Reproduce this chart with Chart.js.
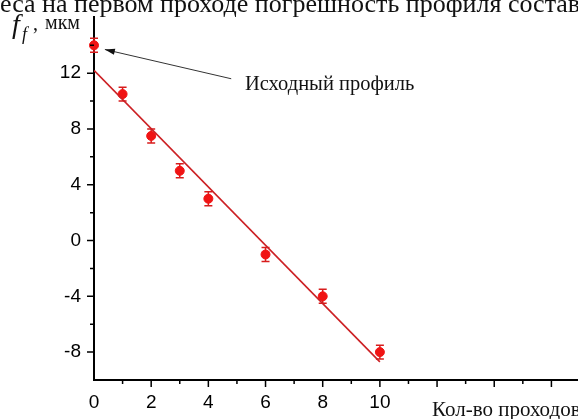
<!DOCTYPE html>
<html>
<head>
<meta charset="utf-8">
<script src="https://cdn.jsdelivr.net/npm/chart.js@4/dist/chart.umd.min.js"></script>
<style>
html, body { margin: 0; padding: 0; background: #fff; overflow: hidden; }
#wrap { position: relative; width: 600px; height: 419px; }
</style>
</head>
<body>
<div id="wrap"><canvas id="profileChart" width="600" height="419"></canvas></div>
<script>
// data
const passes = [0, 1, 2, 3, 4, 6, 8, 10];
const deviation = [14, 10.5, 7.5, 5, 3, -1, -4, -8];
const errors = [0.5, 0.5, 0.5, 0.5, 0.5, 0.5, 0.5, 0.5];
const fitX = [0, 10];
const fitY = [12.2, -8.7];
const xLabels = [0, 2, 4, 6, 8, 10];
const yLabels = [-8, -4, 0, 4, 8, 12];

const serif = '"Liberation Serif", "Times New Roman", serif';
const sans = '"Liberation Sans", Arial, sans-serif';

// error bars under the points
const errorBars = {
    id: 'errorBars',
    beforeDatasetsDraw(chart) {
        const { ctx, scales: { x, y } } = chart;
        ctx.save();
        ctx.strokeStyle = '#d81c1c';
        ctx.lineWidth = 1.5;
        passes.forEach((p, i) => {
            const px = x.getPixelForValue(p);
            const top = y.getPixelForValue(deviation[i] + errors[i]);
            const bot = y.getPixelForValue(deviation[i] - errors[i]);
            ctx.beginPath();
            ctx.moveTo(px, top); ctx.lineTo(px, bot);
            ctx.moveTo(px - 4, top); ctx.lineTo(px + 4, top);
            ctx.moveTo(px - 4, bot); ctx.lineTo(px + 4, bot);
            ctx.stroke();
        });
        ctx.restore();
    }
};

// outward ticks, long on labelled values, short otherwise
const axisTicks = {
    id: 'axisTicks',
    afterDraw(chart) {
        const { ctx, chartArea, scales: { x, y } } = chart;
        ctx.save();
        ctx.strokeStyle = '#000';
        ctx.lineWidth = 1.5;
        ctx.beginPath();
        x.ticks.forEach(t => {
            if (t.value === 0) return;
            const px = x.getPixelForValue(t.value);
            const len = t.value % 2 === 0 ? 7 : 4;
            ctx.moveTo(px, chartArea.bottom);
            ctx.lineTo(px, chartArea.bottom + len);
        });
        y.ticks.forEach(t => {
            if (t.value === 16 || t.value === -10) return;
            const py = y.getPixelForValue(t.value);
            const len = yLabels.includes(t.value) ? 7 : 4;
            ctx.moveTo(chartArea.left, py);
            ctx.lineTo(chartArea.left - len, py);
        });
        ctx.stroke();
        ctx.restore();
    }
};

// texts and the arrow
const annotations = {
    id: 'annotations',
    afterDraw(chart) {
        const { ctx, scales: { x, y } } = chart;
        ctx.save();
        ctx.fillStyle = '#111';
        ctx.textBaseline = 'alphabetic';

        // cut line of the paper text above the figure
        ctx.font = '26px ' + serif;
        ctx.fillText('еса на первом проходе погрешность профиля составила', 0, 12);

        // y axis title
        ctx.font = 'italic 28px ' + serif;
        ctx.fillText('f', 12, 33);
        ctx.font = 'italic 18px ' + serif;
        ctx.fillText('f', 22, 40);
        ctx.font = '20px ' + serif;
        ctx.fillText(',', 33, 30);
        ctx.fillText('мкм', 45, 29);

        // x axis title
        ctx.font = '21px ' + serif;
        ctx.fillText('Кол-во проходов', 432, 416);

        // arrow to the first point
        const x0 = x.getPixelForValue(4.8), y0 = y.getPixelForValue(11.6);
        const x1 = x.getPixelForValue(0.38), y1 = y.getPixelForValue(13.7);
        ctx.strokeStyle = '#333';
        ctx.lineWidth = 1;
        ctx.beginPath();
        ctx.moveTo(x0, y0); ctx.lineTo(x1, y1);
        ctx.stroke();
        const ang = Math.atan2(y1 - y0, x1 - x0);
        ctx.fillStyle = '#111';
        ctx.beginPath();
        ctx.moveTo(x1, y1);
        ctx.lineTo(x1 - 10 * Math.cos(ang) + 3 * Math.sin(ang), y1 - 10 * Math.sin(ang) - 3 * Math.cos(ang));
        ctx.lineTo(x1 - 10 * Math.cos(ang) - 3 * Math.sin(ang), y1 - 10 * Math.sin(ang) + 3 * Math.cos(ang));
        ctx.closePath();
        ctx.fill();

        ctx.font = '20.5px ' + serif;
        ctx.textBaseline = 'middle';
        ctx.fillText('Исходный профиль', x.getPixelForValue(5.28), y.getPixelForValue(11.2));
        ctx.restore();
    }
};

const ctx = document.getElementById('profileChart').getContext('2d');
const profileChart = new Chart(ctx, {
    type: 'scatter',
    data: {
        datasets: [{
            label: 'fit',
            type: 'line',
            data: fitX.map((v, i) => ({ x: v, y: fitY[i] })),
            borderColor: '#cc2024',
            borderWidth: 1.6,
            pointRadius: 0,
            fill: false
        }, {
            label: 'measured',
            data: passes.map((v, i) => ({ x: v, y: deviation[i] })),
            backgroundColor: '#f01414',
            borderColor: '#f01414',
            pointRadius: 4.5,
            clip: false
        }]
    },
    options: {
        responsive: false,
        devicePixelRatio: 1,
        animation: false,
        layout: { padding: { top: 17, right: 20, left: 0, bottom: 0 } },
        plugins: { legend: { display: false }, tooltip: { enabled: false } },
        scales: {
            x: {
                type: 'linear',
                min: 0,
                max: 17,
                afterFit: s => { s.height = 39; },
                border: { display: true, color: '#000', width: 2 },
                grid: { drawOnChartArea: false, drawTicks: true, tickLength: 7, color: 'rgba(0,0,0,0)' },
                ticks: {
                    stepSize: 1,
                    autoSkip: false,
                    maxRotation: 0,
                    padding: 4,
                    color: '#000',
                    font: { family: sans, size: 19 },
                    callback: v => xLabels.includes(v) ? String(v) : ''
                }
            },
            y: {
                min: -10,
                max: 16,
                afterFit: s => { s.width = 94; },
                border: { display: true, color: '#000', width: 2 },
                grid: { drawOnChartArea: false, drawTicks: true, tickLength: 7, color: 'rgba(0,0,0,0)' },
                ticks: {
                    stepSize: 2,
                    autoSkip: false,
                    padding: 6,
                    color: '#000',
                    font: { family: sans, size: 19 },
                    callback: v => yLabels.includes(v) ? String(v) : ''
                }
            }
        }
    },
    plugins: [errorBars, axisTicks, annotations]
});
</script>
</body>
</html>
